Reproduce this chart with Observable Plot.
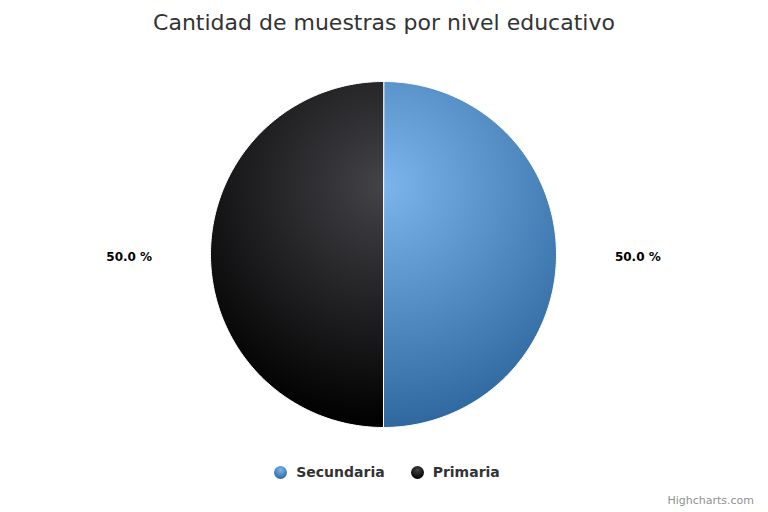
<!DOCTYPE html>
<html>
<head>
<meta charset="utf-8">
<script src="https://cdn.jsdelivr.net/npm/d3@7"></script>
<script src="https://cdn.jsdelivr.net/npm/@observablehq/plot@0.6"></script>
<style>
  html, body { margin: 0; padding: 0; background: #fff; }
  #chart { position: relative; width: 768px; height: 512px; font-family: "DejaVu Sans", sans-serif; overflow: hidden; }
  #title { position: absolute; top: 10px; left: 0; width: 768px; text-align: center; font-size: 22px; line-height: 26px; color: #333333; }
  #plot { position: absolute; top: 48px; left: 0; }
  #legend { position: absolute; top: 464px; left: 0; width: 768px; box-sizing: border-box; padding-left: 6px; display: flex; justify-content: center; align-items: center; font-size: 14px; line-height: 17px; font-weight: bold; color: #333333; }
  .item { display: flex; align-items: center; margin: 0 13px; }
  .marker { width: 13px; height: 13px; border-radius: 50%; margin-right: 9px; }
  #credit { position: absolute; top: 494px; right: 14px; font-size: 11px; line-height: 13px; color: #909090; }
</style>
</head>
<body>
<div id="chart">
  <div id="title"></div>
  <div id="plot"></div>
  <div id="legend"></div>
  <div id="credit">Highcharts.com</div>
</div>
<script>
const titleText = "Cantidad de muestras por nivel educativo";
const categories = ["Secundaria", "Primaria"];
const values = [50, 50];
const baseColors = ["#7cb5ec", "#434348"];
const darkColors = ["#2f689f", "#000000"];

(function () {
document.getElementById("title").textContent = titleText;

const total = d3.sum(values);
let cum = 0;
const slices = categories.map((name, i) => {
  const a0 = cum / total * 2 * Math.PI;
  cum += values[i];
  const a1 = cum / total * 2 * Math.PI;
  return {name, value: values[i], a0, a1, i, pct: values[i] / total * 100};
});

const N = 180;
const points = [];
for (const s of slices) {
  points.push({slice: s.i, x: 0, y: 0});
  for (let k = 0; k <= N; k++) {
    const t = s.a0 + (s.a1 - s.a0) * k / N;
    points.push({slice: s.i, x: Math.sin(t), y: Math.cos(t)});
  }
}
const labels = slices.map(s => {
  const m = (s.a0 + s.a1) / 2;
  return {x: 1.47 * Math.sin(m), y: 1.47 * Math.cos(m), text: s.pct.toFixed(1) + " %"};
});

const chart = Plot.plot({
  width: 768,
  height: 416,
  margin: 0,
  style: {fontFamily: "DejaVu Sans, sans-serif", background: "transparent"},
  x: {domain: [-1, 1], range: [210, 556], axis: null},
  y: {domain: [-1, 1], range: [379, 33], axis: null},
  marks: [
    ...slices.map(s => Plot.line(points.filter(p => p.slice === s.i), {
      x: "x", y: "y", curve: "linear-closed",
      fill: `url(#pie-grad-${s.i})`, stroke: "#ffffff", strokeWidth: 1, strokeLinejoin: "round"
    })),
    Plot.text(labels, {x: "x", y: "y", text: "text", fontSize: 12, fontWeight: "bold", fill: "#000000", textAnchor: "middle", dy: 3})
  ]
});

const xs = chart.scale("x"), ys = chart.scale("y");
const cx = xs.apply(0);
const yTop = ys.apply(1), yBottom = ys.apply(-1);
const diam = yBottom - yTop;
const defs = d3.select(chart).insert("defs", ":first-child");
slices.forEach(s => {
  const g = defs.append("radialGradient")
    .attr("id", `pie-grad-${s.i}`)
    .attr("gradientUnits", "userSpaceOnUse")
    .attr("cx", cx).attr("cy", yTop + 0.3 * diam).attr("r", 0.7 * diam);
  g.append("stop").attr("offset", 0).attr("stop-color", baseColors[s.i]);
  g.append("stop").attr("offset", 1).attr("stop-color", darkColors[s.i]);
});
document.getElementById("plot").appendChild(chart);

const legend = document.getElementById("legend");
categories.forEach((name, i) => {
  const item = document.createElement("div");
  item.className = "item";
  const mk = document.createElement("span");
  mk.className = "marker";
  mk.style.background = `radial-gradient(circle 9px at 50% 30%, ${baseColors[i]}, ${darkColors[i]})`;
  const tx = document.createElement("span");
  tx.textContent = name;
  item.appendChild(mk);
  item.appendChild(tx);
  legend.appendChild(item);
});
})();
</script>
</body>
</html>
